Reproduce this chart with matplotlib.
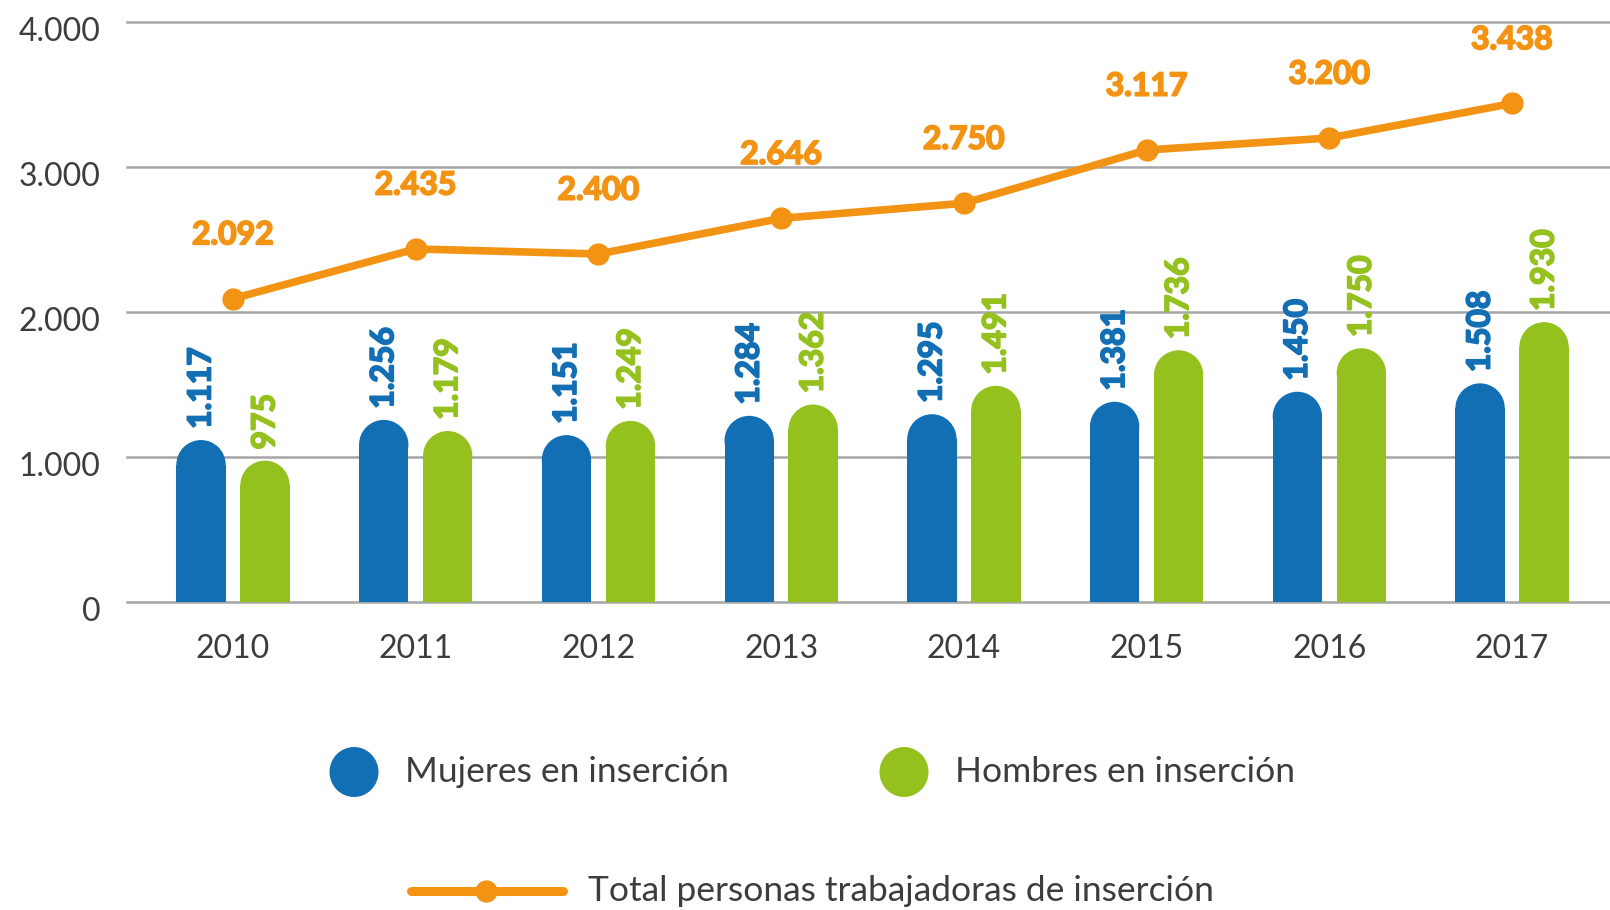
import matplotlib
matplotlib.use("Agg")
import matplotlib.pyplot as plt
import matplotlib.transforms as mtransforms
import matplotlib.patheffects as pe
from matplotlib.patches import Ellipse
from matplotlib.lines import Line2D
import numpy as np

plt.rcParams['font.family'] = ['Lato', 'DejaVu Sans']

years = ["2010", "2011", "2012", "2013", "2014", "2015", "2016", "2017"]
mujeres = [1117, 1256, 1151, 1284, 1295, 1381, 1450, 1508]
hombres = [975, 1179, 1249, 1362, 1491, 1736, 1750, 1930]
total = [2092, 2435, 2400, 2646, 2750, 3117, 3200, 3438]
yticks = [0, 1000, 2000, 3000, 4000]
legend_labels = ["Mujeres en inserción", "Hombres en inserción",
                 "Total personas trabajadoras de inserción"]

BLUE = "#136fb4"
GREEN = "#95c11f"
ORANGE = "#f39314"
GRID = "#a6a6a6"
TXT = "#3d3d3d"


def fmt(v):
    return f"{v:,}".replace(",", ".")


W, H = 1610, 910
fig = plt.figure(figsize=(W / 100, H / 100), dpi=100)
ax = fig.add_axes([127 / W, 1 - 602 / H, 1 - 127 / W, (602 - 22) / H])
ax.set_xlim(-0.58, 7.536)
ax.set_ylim(0, 4000)
for s in ax.spines.values():
    s.set_visible(False)

for t in yticks:
    ax.axhline(t, color=GRID, linewidth=1.8, zorder=0, clip_on=False)

x = np.arange(len(years))
bw = 0.27
off = 0.175

# radius of the rounded cap, in data units
p0 = ax.transData.transform((0, 0))
p1 = ax.transData.transform((bw, 1000))
r_px = (p1[0] - p0[0]) / 2
r_y = r_px / ((p1[1] - p0[1]) / 1000)

for vals, dx, col in [(mujeres, -off, BLUE), (hombres, off, GREEN)]:
    xs = x + dx
    ax.bar(xs, [v - r_y for v in vals], width=bw, color=col, zorder=2, linewidth=0)
    for xi, v in zip(xs, vals):
        ax.add_patch(Ellipse((xi, v - r_y), bw, 2 * r_y, color=col, zorder=2, linewidth=0))
        ax.annotate(fmt(v), (xi, v), xytext=(0, 8), textcoords='offset points',
                    rotation=90, ha='center', va='bottom', fontsize=23,
                    fontweight='bold', color=col,
                    path_effects=[pe.withStroke(linewidth=1.3, foreground=col)])

ax.plot(x, total, color=ORANGE, lw=5.5, marker='o', ms=15,
        solid_capstyle='round', zorder=5, clip_on=False)
for xi, v in zip(x, total):
    ax.annotate(fmt(v), (xi, v), xytext=(0, 46), textcoords='offset points',
                ha='center', va='center', fontsize=23, fontweight='bold', color=ORANGE,
                path_effects=[pe.withStroke(linewidth=1.3, foreground=ORANGE)])

ax.set_yticks(yticks)
ax.set_yticklabels([fmt(t) for t in yticks])
ax.set_xticks(x)
ax.set_xticklabels(years)
ax.tick_params(axis='y', length=0, pad=19, labelsize=23, labelcolor=TXT)
ax.tick_params(axis='x', length=0, pad=23, labelsize=23, labelcolor=TXT)
shift = mtransforms.ScaledTranslation(0, -7 / 100, fig.dpi_scale_trans)
for lbl in ax.get_yticklabels():
    lbl.set_transform(lbl.get_transform() + shift)
    lbl.set_fontweight('normal')
for lbl in ax.get_xticklabels():
    lbl.set_fontweight('normal')

# legend overlay
lax = fig.add_axes([0, 0, 1, 1])
lax.set_xlim(0, W)
lax.set_ylim(H, 0)
lax.axis('off')
lax.patch.set_visible(False)
lax.add_patch(Ellipse((354, 772), 49, 50, color=BLUE, linewidth=0))
lax.text(405, 772, legend_labels[0], va='center', ha='left', fontsize=25.5,
         fontweight='normal', color=TXT)
lax.add_patch(Ellipse((904, 772), 49, 50, color=GREEN, linewidth=0))
lax.text(955, 772, legend_labels[1], va='center', ha='left', fontsize=25.5,
         fontweight='normal', color=TXT)
lax.add_line(Line2D([411, 563], [891, 891], color=ORANGE, lw=6.5,
                    solid_capstyle='round'))
lax.add_line(Line2D([486], [891], color=ORANGE, marker='o', ms=15))
lax.text(588, 891, legend_labels[2], va='center', ha='left', fontsize=25.5,
         fontweight='normal', color=TXT)

fig.savefig("out.png", dpi=100)
